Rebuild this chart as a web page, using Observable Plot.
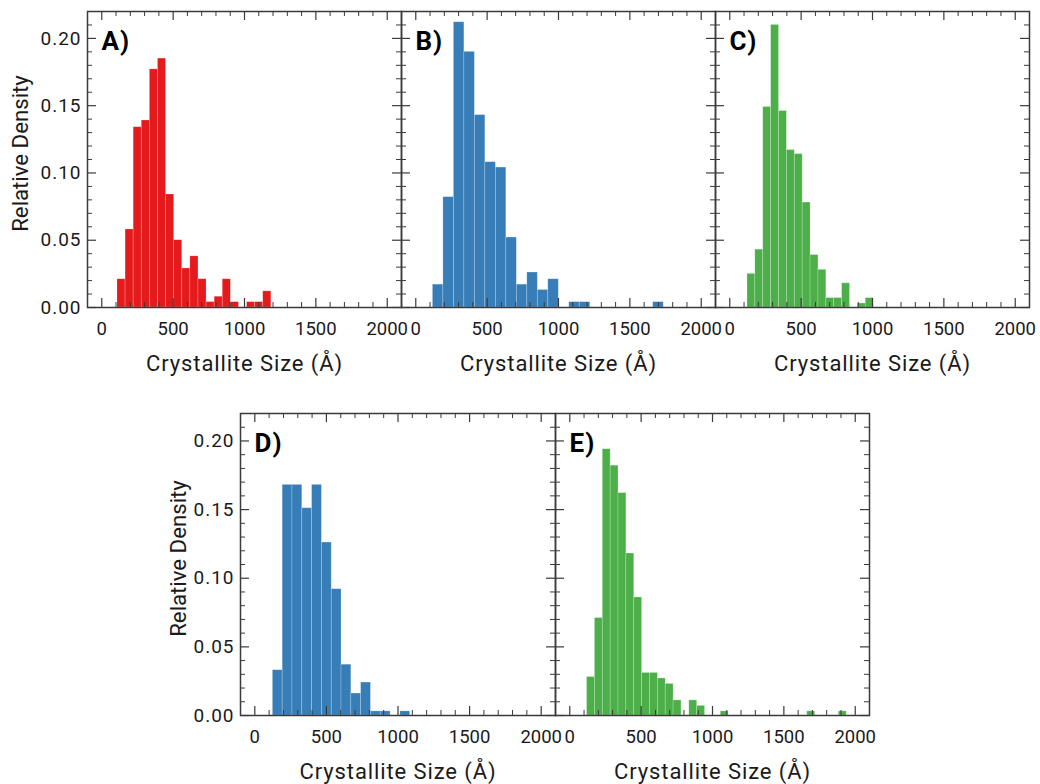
<!DOCTYPE html>
<html>
<head>
<meta charset="utf-8">
<script src="https://cdn.jsdelivr.net/npm/d3@7"></script>
<script src="https://cdn.jsdelivr.net/npm/@observablehq/plot@0.6"></script>
<style>
  html, body { margin: 0; padding: 0; background: #fff; }
  #chart { position: relative; width: 1040px; height: 784px; font-family: Roboto, sans-serif; }
  #chart svg { position: absolute; }
  #chart g[font-size="19"] text { letter-spacing: 1px; }
  #chart g[font-size="22"] text { letter-spacing: 0.9px; }
  #chart g[font-size="26"] text { letter-spacing: 1px; }
</style>
</head>
<body>
<div id="chart"></div>
<script>
// ---- data ----
const xTickValues = [0, 500, 1000, 1500, 2000];
const yTickValues = [0, 0.05, 0.10, 0.15, 0.20];
const yTickLabels = ["0.00", "0.05", "0.10", "0.15", "0.20"];
const xLabel = "Crystallite Size (Å)";
const yLabel = "Relative Density";
const panelLetters = ["A)", "B)", "C)", "D)", "E)"];
const panelColors = ["#e41a1c", "#377eb8", "#4daf4a", "#377eb8", "#4daf4a"];

// histogram range (first edge, last edge) in Å, equal-width bins
const aRange = [110, 1188];
const bRange = [120, 1737];
const cRange = [124, 1008];
const dRange = [126, 1085];
const eRange = [121, 1940];

// relative density per bin
const aHeights = [0.021, 0.058, 0.134, 0.139, 0.177, 0.185, 0.084, 0.050, 0.029, 0.038,
                  0.021, 0.004, 0.008, 0.021, 0.004, 0, 0.004, 0.004, 0.012];
const bHeights = [0.017, 0.082, 0.212, 0.190, 0.143, 0.108, 0.104, 0.052, 0.017, 0.026,
                  0.013, 0.021, 0, 0.004, 0.004, 0, 0, 0, 0, 0, 0, 0.004];
const cHeights = [0.025, 0.043, 0.149, 0.210, 0.146, 0.117, 0.114, 0.078, 0.039, 0.028,
                  0.007, 0.007, 0.018, 0, 0.003, 0.007];
const dHeights = [0.033, 0.168, 0.168, 0.151, 0.168, 0.126, 0.092, 0.037, 0.016, 0.024,
                  0.003, 0.003, 0, 0.003];
const eHeights = [0.028, 0.071, 0.194, 0.182, 0.162, 0.118, 0.086, 0.031, 0.031, 0.027,
                  0.023, 0.011, 0, 0.011, 0.007, 0, 0, 0.003, 0, 0,
                  0, 0, 0, 0, 0, 0, 0, 0, 0.003, 0,
                  0, 0, 0.003];

// ---- layout (frame rectangles in page pixels) ----
const frames = [
  {left: 87,  top: 11,  w: 314, h: 296, yAxis: true,  yLabelDx: -67},
  {left: 401, top: 11,  w: 314, h: 296, yAxis: false},
  {left: 715, top: 11,  w: 314, h: 296, yAxis: false},
  {left: 240, top: 413, w: 315, h: 302, yAxis: true,  yLabelDx: -62},
  {left: 555, top: 413, w: 314, h: 302, yAxis: false}
];
const ranges = [aRange, bRange, cRange, dRange, eRange];
const heights = [aHeights, bHeights, cHeights, dHeights, eHeights];

const axisColor = "#3a3a3a";
const textColor = "#1a1a1a";
const minorX = d3.range(-100, 2101, 100).filter(v => v % 500 !== 0);
const minorY = d3.range(0, 23).map(i => i / 100).filter(v => Math.round(v * 100) % 5 !== 0);

function makePanel(k) {
  const f = frames[k];
  const ML = 95, MR = 12, MT = 10, MB = 80;
  const H = f.h, W = f.w;
  const hs = heights[k], r = ranges[k];
  const bw = (r[1] - r[0]) / hs.length;
  const bins = hs.map((h, i) => ({x1: r[0] + i * bw, x2: r[0] + (i + 1) * bw, h})).filter(d => d.h > 0);
  const majT = 9, minT = 5;
  const marks = [
    Plot.rect(bins, {x1: "x1", x2: "x2", y1: 0, y2: "h", fill: panelColors[k],
                     stroke: "white", strokeWidth: 0.7, strokeOpacity: 0.3}),
    // bottom ticks
    Plot.tickX(xTickValues, {x: d => d, insetTop: H - majT, stroke: axisColor, strokeWidth: 1.2}),
    Plot.tickX(minorX, {x: d => d, insetTop: H - minT, stroke: axisColor, strokeWidth: 1}),
    // top ticks
    Plot.tickX(xTickValues, {x: d => d, insetBottom: H - majT, stroke: axisColor, strokeWidth: 1.2}),
    Plot.tickX(minorX, {x: d => d, insetBottom: H - minT, stroke: axisColor, strokeWidth: 1}),
    // left ticks
    Plot.tickY(yTickValues, {y: d => d, insetRight: W - majT, stroke: axisColor, strokeWidth: 1.2}),
    Plot.tickY(minorY, {y: d => d, insetRight: W - minT, stroke: axisColor, strokeWidth: 1}),
    // right ticks
    Plot.tickY(yTickValues, {y: d => d, insetLeft: W - majT, stroke: axisColor, strokeWidth: 1.2}),
    Plot.tickY(minorY, {y: d => d, insetLeft: W - minT, stroke: axisColor, strokeWidth: 1}),
    Plot.frame({stroke: axisColor, strokeWidth: 1.5}),
    // x tick labels
    Plot.text(xTickValues, {x: d => d, text: d => String(d), frameAnchor: "bottom", dy: 22,
                            lineAnchor: "middle", textAnchor: "middle", fontSize: 18.5, fill: textColor}),
    // x axis label
    Plot.text([xLabel], {text: d => d, frameAnchor: "bottom", dy: 56, lineAnchor: "middle",
                         textAnchor: "middle", fontSize: 22, fill: textColor}),
    // panel letter
    Plot.text([panelLetters[k]], {text: d => d, frameAnchor: "top-left", dx: 14, dy: 30,
                                  lineAnchor: "middle", textAnchor: "start", fontSize: 26,
                                  fontWeight: "bold", fill: "#000"})
  ];
  if (f.yAxis) {
    marks.push(
      Plot.text(yTickValues, {y: d => d, text: (d, i) => yTickLabels[i], frameAnchor: "left", dx: -6,
                              lineAnchor: "middle", textAnchor: "end", fontSize: 19, fill: textColor}),
      Plot.text([yLabel], {text: d => d, frameAnchor: "left", dx: f.yLabelDx, dy: -6, rotate: -90,
                           lineAnchor: "middle", textAnchor: "middle", fontSize: 22.2, fill: textColor})
    );
  }
  const svg = Plot.plot({
    width: ML + W + MR,
    height: MT + H + MB,
    marginLeft: ML, marginRight: MR, marginTop: MT, marginBottom: MB,
    x: {domain: [-100, 2100], axis: null},
    y: {domain: [0, 0.22], axis: null},
    style: {background: "transparent", overflow: "visible", fontFamily: "Roboto, sans-serif"},
    marks
  });
  svg.style.left = (f.left - ML) + "px";
  svg.style.top = (f.top - MT) + "px";
  svg.style.overflow = "visible";
  return svg;
}

const chart = document.getElementById("chart");
for (let k = 0; k < 5; k++) chart.appendChild(makePanel(k));
</script>
</body>
</html>
